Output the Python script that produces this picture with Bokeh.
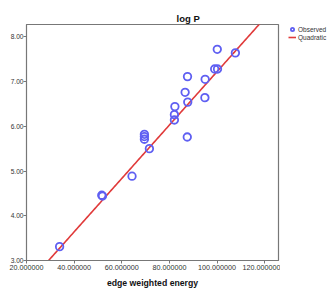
import numpy as np
from bokeh.plotting import figure
from bokeh.layouts import row
from bokeh.models import (Range1d, FixedTicker, PrintfTickFormatter, Legend, LegendItem,
                          ColumnDataSource)
from bokeh.embed import file_html
from bokeh.resources import INLINE

# ---- data ----
energy = [33.9, 51.6, 51.9, 64.3, 69.5, 69.5, 69.5, 71.6, 82.3, 82.1, 82.1,
          86.6, 87.6, 87.7, 87.5, 95.0, 94.9, 99.0, 100.2, 100.1, 107.7]
log_p = [3.31, 4.46, 4.44, 4.885, 5.82, 5.77, 5.71, 5.50, 6.44, 6.26, 6.14,
         6.76, 7.11, 6.54, 5.76, 7.05, 6.64, 7.28, 7.28, 7.72, 7.64]
quad_coef = [1.252, 0.0597, 0.0]  # y = c0 + c1*x + c2*x^2
x_ticks = [20, 40, 60, 80, 100, 120]
y_ticks = [3, 4, 5, 6, 7, 8]
series_labels = ["Observed", "Quadratic"]

FONT = "Liberation Sans"
PT_COLOR = "#5f5ff2"
LN_COLOR = "#e03a3a"

p = figure(width=280, height=294, output_backend="svg", toolbar_location=None,
           x_range=Range1d(20, 125.8), y_range=Range1d(3.0, 8.275),
           min_border_left=26, min_border_right=2, min_border_top=24, min_border_bottom=34)
p.background_fill_color = "white"
p.border_fill_color = "white"
p.outline_line_color = "#777777"
p.outline_line_width = 1.2
p.xgrid.visible = False
p.ygrid.visible = False

# title
p.title.text = "log P"
p.title.align = "left"
p.title.offset = 150
p.title.standoff = 0.5
p.title.text_font = FONT
p.title.text_font_size = "9.5px"
p.title.text_font_style = "bold"
p.title.text_color = "#111111"

for ax in (p.xaxis[0], p.yaxis[0]):
    ax.axis_line_color = "#777777"
    ax.major_tick_line_color = "#777777"
    ax.major_tick_in = 0
    ax.major_tick_out = 3
    ax.minor_tick_line_color = None
    ax.major_label_text_font = FONT
    ax.major_label_text_color = "#333333"

p.xaxis[0].ticker = FixedTicker(ticks=x_ticks)
p.xaxis[0].formatter = PrintfTickFormatter(format="%.6f")
p.xaxis[0].major_label_text_font_size = "7.2px"
p.xaxis[0].major_label_standoff = 1
p.xaxis[0].axis_label = "edge weighted energy"
p.xaxis[0].axis_label_text_font = FONT
p.xaxis[0].axis_label_text_font_size = "8.7px"
p.xaxis[0].axis_label_text_font_style = "bold"
p.xaxis[0].axis_label_text_color = "#111111"
p.xaxis[0].axis_label_standoff = 5

p.yaxis[0].ticker = FixedTicker(ticks=y_ticks)
p.yaxis[0].formatter = PrintfTickFormatter(format="%.2f")
p.yaxis[0].major_label_text_font_size = "6.6px"
p.yaxis[0].major_label_standoff = 0

# quadratic curve
xs = np.linspace(20, 125.8, 200)
ys = quad_coef[0] + quad_coef[1] * xs + quad_coef[2] * xs ** 2
curve = ColumnDataSource(dict(x=xs, y=ys))
p.line("x", "y", source=curve, line_color=LN_COLOR, line_width=1.6)

src = ColumnDataSource(dict(x=energy, y=log_p))
p.scatter("x", "y", source=src, marker="circle", size=7.5,
          fill_color=None, line_color=PT_COLOR, line_width=1.8)

# legend panel (separate narrow figure to the right of the plot frame);
# its renderers reuse the same sources but lie outside its (0..1) view, only the key shows
lf = figure(width=50, height=294, output_backend="svg", toolbar_location=None,
            x_axis_type=None, y_axis_type=None, title_location=None,
            min_border_left=0, min_border_right=0, min_border_bottom=34, min_border_top=24,
            x_range=Range1d(0, 1), y_range=Range1d(0, 1))
lf.outline_line_color = None
lf.xgrid.visible = False
lf.ygrid.visible = False
k_pts = lf.scatter("x", "y", source=src, marker="circle", size=7.5,
                   fill_color=None, line_color=PT_COLOR, line_width=1.8)
k_ln = lf.line("x", "y", source=curve, line_color=LN_COLOR, line_width=1.6)

legend = Legend(items=[LegendItem(label=series_labels[0], renderers=[k_pts]),
                       LegendItem(label=series_labels[1], renderers=[k_ln])],
                location=(8, 219))
legend.label_text_font = FONT
legend.label_text_font_size = "6.5px"
legend.label_text_color = "#333333"
legend.label_height = 8
legend.glyph_height = 8
legend.glyph_width = 8
legend.label_standoff = 2
legend.spacing = 0
legend.padding = 0
legend.margin = 0
legend.border_line_color = None
legend.background_fill_alpha = 0
lf.add_layout(legend, "center")

layout = row(p, lf, spacing=0)
open("out.html", "w").write(file_html(layout, INLINE))
